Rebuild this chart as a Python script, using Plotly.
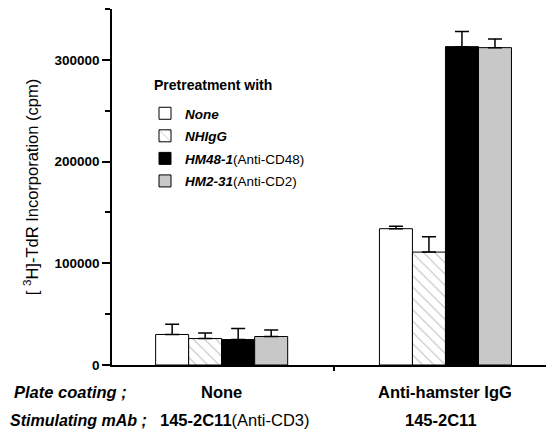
import plotly.graph_objects as go

groups = [1, 2]
series_names = [
    "<b><i>None</i></b>",
    "<b><i>NHIgG</i></b>",
    "<b><i>HM48-1</i></b>(Anti-CD48)",
    "<b><i>HM2-31</i></b>(Anti-CD2)",
]
values = [
    [30000, 134000],
    [26000, 111000],
    [25000, 313000],
    [28000, 312000],
]
errors = [
    [10000, 2500],
    [5500, 15000],
    [11000, 15000],
    [6500, 8500],
]
fills = ["white", "white", "black", "#c8c8c8"]
patterns = ["", "\\", "", ""]

coating_labels = ["None", "Anti-hamster IgG"]
mab_labels = ["<b>145-2C11</b>(Anti-CD3)", "<b>145-2C11</b>"]
y_ticks = [0, 100000, 200000, 300000]

FONT = "Liberation Sans, Arial, Helvetica, sans-serif"

# screen geometry (page has an 8px body margin)
PL, PR, PT, PB = 112, 554, 9, 365
PW, PH = PR - PL, PB - PT


def px(xs):
    return (xs - PL) / PW


def py(ys):
    return (PB - ys) / PH


fig = go.Figure()
for i, name in enumerate(series_names):
    fig.add_trace(go.Bar(
        x=groups, y=values[i], name=name,
        legendgroup=str(i),
        marker=dict(
            color=fills[i],
            line=dict(color="black", width=1),
            pattern=dict(shape=patterns[i], fgcolor="#777777", bgcolor="white",
                         size=8, solidity=0.12),
        ),
        error_y=dict(type="data", array=errors[i], arrayminus=[0, 0],
                     symmetric=False, color="black", thickness=1.5, width=7),
    ))

fig.update_layout(
    width=546, height=424,
    margin=dict(l=PL - 8, r=0, t=PT - 8, b=424 - (PB - 8)),
    paper_bgcolor="white", plot_bgcolor="white",
    font=dict(family=FONT, color="black"),
    barmode="group", bargap=0.41, bargroupgap=0,
    showlegend=True,
    legend=dict(
        x=px(145), y=py(98), xanchor="left", yanchor="top",
        font=dict(size=13.5),
        tracegroupgap=2,
        bgcolor="rgba(0,0,0,0)",
    ),
    xaxis=dict(
        range=[0.51, 2.485], tickvals=[1.5], showticklabels=False,
        ticks="outside", ticklen=4, tickwidth=1.5, tickcolor="black",
        showline=True, linecolor="black", linewidth=1.5,
        showgrid=False, zeroline=False, fixedrange=True,
    ),
    yaxis=dict(
        range=[0, 350000], tickvals=y_ticks, tickformat="d",
        ticks="outside", ticklen=8, tickwidth=1.5, tickcolor="black",
        tickfont=dict(size=13.5, weight="bold"),
        minor=dict(dtick=50000, ticks="outside", ticklen=5, tickwidth=1.5, tickcolor="black"),
        showline=True, linecolor="black", linewidth=1.5,
        showgrid=False, zeroline=False,
        title=dict(text="[ <sup>3</sup>H]-TdR Incorporation (cpm)",
                   font=dict(size=16.5), standoff=12),
    ),
)

fig.add_annotation(text="<b>Pretreatment with</b>", x=px(152), y=py(85),
                   xref="paper", yref="paper", xanchor="left", yanchor="middle",
                   showarrow=False, font=dict(size=14))

annots = [
    dict(text="<b><i>Plate coating ;</i></b>", x=129, y=392, size=16.5),
    dict(text="<b><i>Stimulating mAb ;</i></b>", x=149, y=420, size=16),
]
for a in annots:
    fig.add_annotation(text=a["text"], x=px(a["x"]), y=py(a["y"]),
                       xref="paper", yref="paper", xanchor="right", yanchor="middle",
                       showarrow=False, font=dict(size=a["size"]))
for g, lab in zip(groups, coating_labels):
    fig.add_annotation(text="<b>" + lab + "</b>", x=g, y=py(392),
                       xref="x", yref="paper", xanchor="center", yanchor="middle",
                       showarrow=False, font=dict(size=16.5))
mab_x = [1.06, 1.98]
for mx, lab in zip(mab_x, mab_labels):
    fig.add_annotation(text=lab, x=mx, y=py(420),
                       xref="x", yref="paper", xanchor="center", yanchor="middle",
                       showarrow=False, font=dict(size=16.5))

fig.write_html("out.html")
